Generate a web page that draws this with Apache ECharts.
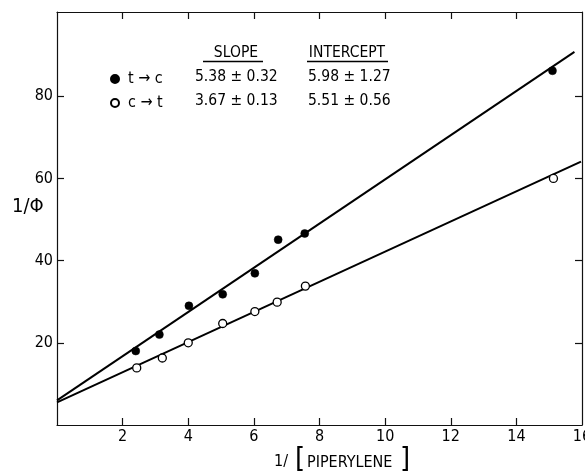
<!DOCTYPE html>
<html>
<head>
<meta charset="utf-8">
<script src="https://cdn.jsdelivr.net/npm/echarts@6/dist/echarts.min.js"></script>
<style>
html,body{margin:0;padding:0;background:#fff;}
#chart{width:585px;height:475px;}
</style>
</head>
<body>
<div id="chart"></div>
<script>
// ---- data ----
const xTickValues = [2, 4, 6, 8, 10, 12, 14];
const xLabelValues = [2, 4, 6, 8, 10, 12, 14, 16];
const yTickValues = [20, 40, 60, 80];
const seriesNames = ['t \u2192 c', 'c \u2192 t'];
const tcX = [2.40, 3.12, 4.02, 5.05, 6.03, 6.74, 7.55, 15.10];
const tcY = [18.0, 22.0, 29.0, 31.8, 36.9, 45.1, 46.6, 86.2];
const ctX = [2.43, 3.21, 4.00, 5.05, 6.03, 6.71, 7.57, 15.13];
const ctY = [13.9, 16.3, 20.0, 24.7, 27.6, 29.9, 33.8, 60.0];
const tcFitX = [0, 15.77];
const tcFitY = [6.0, 90.8];
const ctFitX = [0, 15.97];
const ctFitY = [5.5, 64.1];
const tableHeaders = ['SLOPE', 'INTERCEPT'];
const slopeText = ['5.38 \u00b1 0.32', '3.67 \u00b1 0.13'];
const interceptText = ['5.98 \u00b1 1.27', '5.51 \u00b1 0.56'];
const yName = '1/\u03a6';
const xNameParts = ['1/', '[', 'PIPERYLENE', ']'];

const FONT = "'DejaVu Sans Condensed','Liberation Sans Narrow',sans-serif";
const pairs = (xs, ys) => xs.map((x, i) => [x, ys[i]]);

const chart = echarts.init(document.getElementById('chart'), null, {renderer: 'canvas'});

const tickStyle = {show: true, inside: true, length: 7, lineStyle: {color: '#111', width: 1.2}};
const lineStyleAxis = {show: true, onZero: false, lineStyle: {color: '#111', width: 1.2}};

const option = {
  backgroundColor: '#fff',
  animation: false,
  textStyle: {fontFamily: FONT},
  grid: {left: 57, right: 3, top: 12, bottom: 50, containLabel: false, outerBoundsMode: 'none'},
  legend: {
    data: [
      {name: seriesNames[0], icon: 'circle'},
      {name: seriesNames[1], icon: 'circle'}
    ],
    orient: 'vertical',
    left: 105, top: 66,
    itemWidth: 8, itemHeight: 8,
    itemGap: 8,
    textStyle: {fontFamily: FONT, fontSize: 16, color: '#000', padding: [0, 0, 0, 4]},
    selectedMode: false
  },
  xAxis: [{
    type: 'value', min: 0, max: 16, interval: 2, position: 'bottom',
    axisLine: lineStyleAxis,
    axisTick: Object.assign({customValues: xTickValues}, tickStyle),
    axisLabel: {customValues: xLabelValues, color: '#000', fontSize: 16, fontFamily: FONT, margin: 4,
      showMaxLabel: true, hideOverlap: false,
      formatter: v => (v === 0 ? '' : String(v))},
    splitLine: {show: false}
  }, {
    type: 'value', min: 0, max: 16, interval: 2, position: 'top',
    axisLine: lineStyleAxis,
    axisTick: Object.assign({customValues: xTickValues}, tickStyle),
    axisLabel: {show: false},
    splitLine: {show: false}
  }],
  yAxis: [{
    type: 'value', min: 0, max: 100.5, interval: 20, position: 'left',
    axisLine: lineStyleAxis,
    axisTick: Object.assign({customValues: yTickValues}, tickStyle),
    axisLabel: {customValues: yTickValues, color: '#000', fontSize: 16, fontFamily: FONT, margin: 4,
      formatter: v => (v === 0 || v > 90 ? '' : String(v))},
    splitLine: {show: false}
  }, {
    type: 'value', min: 0, max: 100.5, interval: 20, position: 'right',
    axisLine: lineStyleAxis,
    axisTick: Object.assign({customValues: yTickValues}, tickStyle),
    axisLabel: {show: false},
    splitLine: {show: false}
  }],
  graphic: [
    {type: 'text', left: 12, top: 197, style: {text: yName, fontFamily: FONT, fontSize: 20, fill: '#000'}},
    {type: 'text', left: 274, top: 454, style: {text: xNameParts[0], fontFamily: FONT, fontSize: 16, fill: '#000'}},
    {type: 'text', left: 295, top: 446, style: {text: xNameParts[1], fontFamily: FONT, fontSize: 29, fill: '#000'}},
    {type: 'text', left: 307, top: 455, style: {text: xNameParts[2], fontFamily: FONT, fontSize: 16, fill: '#000'}},
    {type: 'text', left: 400, top: 446, style: {text: xNameParts[3], fontFamily: FONT, fontSize: 29, fill: '#000'}},
    {type: 'text', x: 236, y: 53, style: {text: tableHeaders[0], fontFamily: FONT, fontSize: 15.5, fill: '#000', align: 'center', verticalAlign: 'middle'}},
    {type: 'text', x: 347, y: 53, style: {text: tableHeaders[1], fontFamily: FONT, fontSize: 15.5, fill: '#000', align: 'center', verticalAlign: 'middle'}},
    {type: 'line', shape: {x1: 203, y1: 61.5, x2: 263, y2: 61.5}, style: {stroke: '#000', lineWidth: 1.5}},
    {type: 'line', shape: {x1: 307, y1: 61.5, x2: 388, y2: 61.5}, style: {stroke: '#000', lineWidth: 1.5}},
    {type: 'text', x: 195, y: 77, style: {text: slopeText[0], fontFamily: FONT, fontSize: 15.5, fill: '#000', verticalAlign: 'middle'}},
    {type: 'text', x: 308, y: 77, style: {text: interceptText[0], fontFamily: FONT, fontSize: 15.5, fill: '#000', verticalAlign: 'middle'}},
    {type: 'text', x: 195, y: 101, style: {text: slopeText[1], fontFamily: FONT, fontSize: 15.5, fill: '#000', verticalAlign: 'middle'}},
    {type: 'text', x: 308, y: 101, style: {text: interceptText[1], fontFamily: FONT, fontSize: 15.5, fill: '#000', verticalAlign: 'middle'}}
  ],
  series: [
    {
      name: 'tcFit', type: 'line', xAxisIndex: 0, yAxisIndex: 0,
      data: pairs(tcFitX, tcFitY), showSymbol: false, symbol: 'none',
      lineStyle: {color: '#000', width: 2}, z: 2, silent: true
    },
    {
      name: 'ctFit', type: 'line', xAxisIndex: 0, yAxisIndex: 0,
      data: pairs(ctFitX, ctFitY), showSymbol: false, symbol: 'none',
      lineStyle: {color: '#000', width: 2}, z: 2, silent: true
    },
    {
      name: seriesNames[0], type: 'scatter', xAxisIndex: 0, yAxisIndex: 0,
      data: pairs(tcX, tcY), symbol: 'circle', symbolSize: 8,
      itemStyle: {color: '#000', borderColor: '#000', borderWidth: 0.5, opacity: 1}, z: 5
    },
    {
      name: seriesNames[1], type: 'scatter', xAxisIndex: 0, yAxisIndex: 0,
      data: pairs(ctX, ctY), symbol: 'circle', symbolSize: 8,
      itemStyle: {color: '#fff', borderColor: '#000', borderWidth: 1.3, opacity: 1}, z: 5
    }
  ]
};
chart.setOption(option);
</script>
</body>
</html>
